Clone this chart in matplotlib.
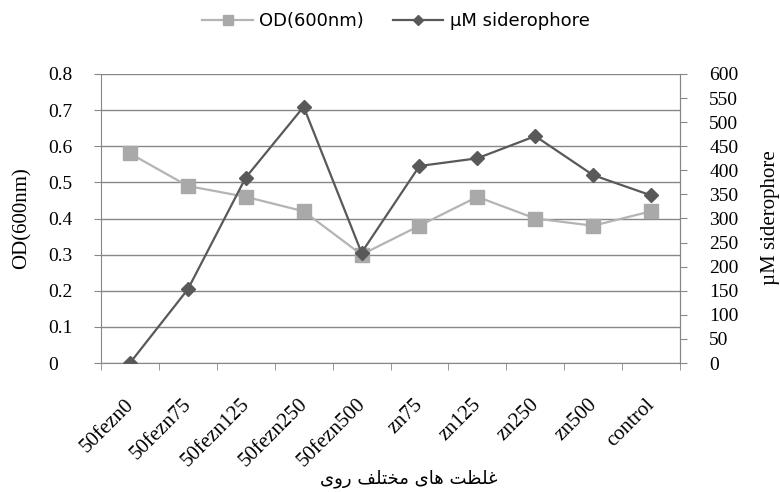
import matplotlib
matplotlib.use("Agg")
import matplotlib.pyplot as plt
from matplotlib.lines import Line2D
from matplotlib.transforms import ScaledTranslation

# data
categories = ["50fezn0", "50fezn75", "50fezn125", "50fezn250", "50fezn500",
              "zn75", "zn125", "zn250", "zn500", "control"]
od_600 = [0.58, 0.49, 0.46, 0.42, 0.30, 0.38, 0.46, 0.40, 0.38, 0.42]
siderophore = [0, 153, 385, 532, 229, 409, 425, 471, 390, 348]

od_ticks = [0, 0.1, 0.2, 0.3, 0.4, 0.5, 0.6, 0.7, 0.8]
sid_ticks = list(range(0, 601, 50))

# "غلظت های مختلف روی" written in Arabic presentation forms, visual order
x_title = "\uFEEF\uFEED\uFEAD \uFED2\uFEE0\uFE98\uFEA8\uFEE3 \uFEEF\uFE8E\uFEEB \uFE96\uFEC8\uFEE0\uFECF"

GRID = "#878787"
LIGHT = "#a9a9a9"
DARK = "#595959"
SERIF = ["Liberation Serif", "DejaVu Serif"]

fig = plt.figure(figsize=(7.8, 4.92), dpi=100)
ax = fig.add_axes([101 / 780, 1 - 363 / 492, 579 / 780, 289 / 492])
ax2 = ax.twinx()

x = list(range(len(categories)))
ax.plot(x, od_600, color="#b4b4b4", lw=1.6, marker="s", ms=10,
        mfc=LIGHT, mec=LIGHT, zorder=3)
ax2.plot(x, siderophore, color=DARK, lw=1.6, marker="D", ms=7.5,
         mfc=DARK, mec=DARK, zorder=3)

ax.set_xlim(-0.5, len(categories) - 0.5)
ax.set_ylim(0, 0.8)
ax2.set_ylim(0, 600)
ax.set_yticks(od_ticks)
ax.set_yticklabels(["0" if v == 0 else f"{v:.1f}" for v in od_ticks])
ax2.set_yticks(sid_ticks)
ax2.set_yticklabels([str(v) for v in sid_ticks])

ax.grid(axis="y", color=GRID, lw=1)
ax.set_axisbelow(True)

for a in (ax, ax2):
    a.spines["top"].set_visible(False)
    for s in ("left", "right", "bottom"):
        a.spines[s].set_color(GRID)
ax2.spines["left"].set_visible(False)
ax2.spines["bottom"].set_visible(False)

# category labels between tick marks
ax.set_xticks(x)
ax.set_xticks([i - 0.5 for i in range(len(categories) + 1)], minor=True)
ax.tick_params(axis="x", which="major", length=0, pad=28)
ax.tick_params(axis="x", which="minor", length=5, color=GRID, direction="out")
ax.set_xticklabels(categories, rotation=45, ha="right", va="center",
                   rotation_mode="anchor", fontsize=15, family=SERIF)
shift = ScaledTranslation(1 / 100, 0, fig.dpi_scale_trans)
for t in ax.get_xticklabels():
    t.set_transform(t.get_transform() + shift)

ax.tick_params(axis="y", length=5, color=GRID, pad=33, labelsize=14)
for t in ax.get_yticklabels():
    t.set_horizontalalignment("left")
    t.set_family(SERIF)
ax2.tick_params(axis="y", length=5, color=GRID, pad=16, labelsize=14)
for t in ax2.get_yticklabels():
    t.set_family(SERIF)

fig.text(22 / 780, 1 - 218 / 492, "OD(600nm)", rotation=90, ha="center",
         va="center", fontsize=15, family=SERIF)
fig.text(770 / 780, 1 - 218 / 492, "µM siderophore", rotation=90, ha="center",
         va="center", fontsize=15, family=SERIF)
fig.text(409 / 780, 1 - 479 / 492, x_title, ha="center", va="center",
         fontsize=13, family="DejaVu Sans")

handles = [
    Line2D([], [], color="#b4b4b4", lw=1.6, marker="s", ms=7, mfc=LIGHT, mec=LIGHT),
    Line2D([], [], color=DARK, lw=1.6, marker="D", ms=5, mfc=DARK, mec=DARK),
]
fig.legend(handles, ["OD(600nm)", "µM siderophore"], loc="center",
           bbox_to_anchor=(396 / 780, 1 - 21 / 492), ncol=2, frameon=False,
           handlelength=2.8, handletextpad=0.35, columnspacing=1.6,
           prop={"family": "DejaVu Sans", "size": 13})

fig.savefig("out.png", dpi=100)
plt.close(fig)
